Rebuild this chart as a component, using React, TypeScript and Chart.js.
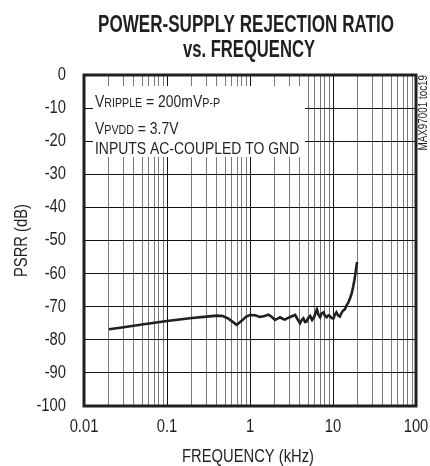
import React, { useEffect, useRef } from "react";
import { Chart, registerables } from "chart.js";

Chart.register(...registerables);

// ---- data ----
const frequencyKHz = [
  0.02, 0.03, 0.05, 0.1, 0.2, 0.3, 0.4, 0.47, 0.55, 0.69, 0.8, 0.9, 1.0, 1.15, 1.32, 1.5,
  1.67, 1.85, 2.0, 2.15, 2.3, 2.5, 2.65, 2.8, 3.0, 3.25, 3.5, 3.75, 4.0, 4.2, 4.4, 4.6,
  4.8, 5.0, 5.3, 5.6, 5.9, 6.4, 6.7, 7.0, 7.3, 7.7, 8.0, 8.4, 8.8, 9.2, 9.6, 10.1, 10.5,
  11.0, 11.5, 12.1, 12.6, 13.2, 13.9, 14.6, 15.3, 16.0, 16.8, 17.5, 18.1, 18.6, 19.1, 19.5,
];
const psrrDB = [
  -76.8, -76.2, -75.4, -74.3, -73.4, -73.0, -72.7, -72.8, -73.6, -75.5, -74.2, -73.0, -72.5,
  -72.6, -73.1, -72.8, -72.4, -73.2, -74.0, -73.6, -73.2, -73.7, -73.9, -73.5, -73.2, -72.8,
  -72.5, -73.8, -75.0, -74.0, -73.5, -74.6, -74.5, -73.5, -72.8, -74.0, -73.2, -70.8, -72.5,
  -73.2, -72.0, -71.7, -72.8, -73.2, -72.6, -72.8, -73.4, -73.6, -72.5, -71.7, -72.6, -73.0,
  -72.0, -71.2, -70.8, -69.5, -68.8, -67.5, -66.0, -64.0, -62.0, -60.0, -58.0, -56.5,
];
const xTickLabels = ["0.01", "0.1", "1", "10", "100"];
const yMin = -100;
const yMax = 0;
const yStep = 10;
const titleLines = ["POWER-SUPPLY REJECTION RATIO", "vs. FREQUENCY"];
const xAxisTitle = "FREQUENCY (kHz)";
const yAxisTitle = "PSRR (dB)";
const figureId = "MAX97001 toc19";
// each note line: [text, isSubscript]
const noteLines: [string, boolean][][] = [
  [["V", false], ["RIPPLE", true], [" = 200mV", false], ["P-P", true]],
  [["V", false], ["PVDD", true], [" = 3.7V", false]],
  [["INPUTS AC-COUPLED TO GND", false]],
];

const FONT = "'Liberation Sans', Arial, sans-serif";
const INK = "#231F20";
const SQUEEZE = 0.82; // horizontal condensing to mimic a narrow face

const isDecade = (v: number) => {
  const l = Math.log10(v);
  return Math.abs(l - Math.round(l)) < 1e-6;
};

const decadeValues = xTickLabels.map((s) => parseFloat(s));

function buildLogTicks() {
  const ticks: { value: number }[] = [];
  for (let i = 0; i < decadeValues.length; i++) {
    const d = decadeValues[i];
    ticks.push({ value: d });
    if (i < decadeValues.length - 1) {
      for (let k = 2; k <= 9; k++) ticks.push({ value: d * k });
    }
  }
  return ticks;
}

function fitText(ctx: CanvasRenderingContext2D, text: string, cx: number, base: number, font: string, width: number) {
  ctx.save();
  ctx.font = font;
  const w = ctx.measureText(text).width;
  ctx.translate(cx, base);
  ctx.scale(width / w, 1);
  ctx.textAlign = "center";
  ctx.textBaseline = "alphabetic";
  ctx.fillText(text, 0, 0);
  ctx.restore();
}

function squeezeText(
  ctx: CanvasRenderingContext2D,
  text: string,
  x: number,
  y: number,
  font: string,
  align: CanvasTextAlign,
  baseline: CanvasTextBaseline
) {
  ctx.save();
  ctx.font = font;
  ctx.translate(x, y);
  ctx.scale(SQUEEZE, 1);
  ctx.textAlign = align;
  ctx.textBaseline = baseline;
  ctx.fillText(text, 0, 0);
  const w = ctx.measureText(text).width * SQUEEZE;
  ctx.restore();
  return w;
}

const decorPlugin = {
  id: "decor",
  beforeDatasetsDraw(chart: any) {
    const { ctx, chartArea } = chart;
    const bx = chartArea.left + 9;
    const by = chartArea.top + 11;
    ctx.save();
    ctx.fillStyle = "#fff";
    ctx.fillRect(bx, by, 212, 71);
    ctx.fillStyle = INK;
    const baselines = [by + 21, by + 48, by + 68];
    noteLines.forEach((segs, i) => {
      let x = bx + 2;
      segs.forEach(([t, sub]) => {
        x += squeezeText(ctx, t, x, baselines[i], `${sub ? 13 : 17}px ${FONT}`, "left", "alphabetic");
      });
    });
    ctx.restore();
  },
  afterDraw(chart: any) {
    const { ctx, chartArea } = chart;
    const xs = chart.scales.x;
    const ys = chart.scales.y;
    ctx.save();
    // frame
    ctx.strokeStyle = INK;
    ctx.lineWidth = 3;
    ctx.strokeRect(chartArea.left, chartArea.top, chartArea.right - chartArea.left, chartArea.bottom - chartArea.top);
    ctx.fillStyle = INK;
    // tick labels from the scales
    const tickFont = `18px ${FONT}`;
    ys.ticks.forEach((t: any) => {
      const py = ys.getPixelForValue(t.value);
      squeezeText(ctx, String(t.label ?? t.value), chartArea.left - 18, py, tickFont, "right", "middle");
    });
    xs.ticks.forEach((t: any) => {
      if (!isDecade(t.value)) return;
      const idx = decadeValues.findIndex((d) => Math.abs(d - t.value) / d < 1e-6);
      if (idx < 0) return;
      const px = xs.getPixelForValue(t.value);
      squeezeText(ctx, xTickLabels[idx], px, chartArea.bottom + 26, tickFont, "center", "alphabetic");
    });
    // title
    fitText(ctx, titleLines[0], 246, 32, `bold 23px ${FONT}`, 296);
    fitText(ctx, titleLines[1], 249, 57, `bold 23px ${FONT}`, 132);
    // x title
    const cx = (chartArea.left + chartArea.right) / 2;
    squeezeText(ctx, xAxisTitle, cx - 2, 462, `18px ${FONT}`, "center", "alphabetic");
    // y title
    const cy = (chartArea.top + chartArea.bottom) / 2;
    ctx.save();
    ctx.translate(27, cy);
    ctx.rotate(-Math.PI / 2);
    squeezeText(ctx, yAxisTitle, 0, 0, `18px ${FONT}`, "center", "alphabetic");
    ctx.restore();
    // figure id
    ctx.save();
    ctx.translate(chartArea.right + 11, chartArea.top);
    ctx.rotate(-Math.PI / 2);
    squeezeText(ctx, figureId, 0, 0, `12px ${FONT}`, "right", "alphabetic");
    ctx.restore();
    ctx.restore();
  },
};

export default function App() {
  const ref = useRef<HTMLCanvasElement | null>(null);
  useEffect(() => {
    document.body.style.margin = "0";
    const canvas = ref.current!;
    const chart = new Chart(canvas, {
      type: "line",
      data: {
        datasets: [
          {
            data: frequencyKHz.map((f, i) => ({ x: f, y: psrrDB[i] })),
            borderColor: INK,
            borderWidth: 2.6,
            pointRadius: 0,
            tension: 0,
            fill: false,
          },
        ],
      },
      options: {
        animation: false,
        responsive: false,
        devicePixelRatio: 1,
        layout: { padding: { top: 75, right: 14, left: 0, bottom: 0 } },
        plugins: { legend: { display: false }, tooltip: { enabled: false }, title: { display: false } },
        scales: {
          x: {
            type: "logarithmic",
            min: decadeValues[0],
            max: decadeValues[decadeValues.length - 1],
            afterBuildTicks: (s: any) => {
              s.ticks = buildLogTicks();
            },
            afterFit: (s: any) => {
              s.height = 60;
            },
            grid: {
              color: (c: any) => (c.tick && isDecade(c.tick.value) ? "#111" : "#7a7a7a"),
              lineWidth: 1,
              drawTicks: false,
            },
            border: { display: false },
            ticks: { display: false, autoSkip: false, maxRotation: 0 },
          },
          y: {
            type: "linear",
            min: yMin,
            max: yMax,
            afterFit: (s: any) => {
              s.width = 84;
            },
            grid: { color: "#111", lineWidth: 1, drawTicks: false },
            border: { display: false },
            ticks: { display: false, stepSize: yStep },
          },
        },
      },
      plugins: [decorPlugin],
    });
    return () => chart.destroy();
  }, []);
  return (
    <div style={{ width: 430, height: 466 }}>
      <canvas ref={ref} width={430} height={466} style={{ display: "block" }} />
    </div>
  );
}
